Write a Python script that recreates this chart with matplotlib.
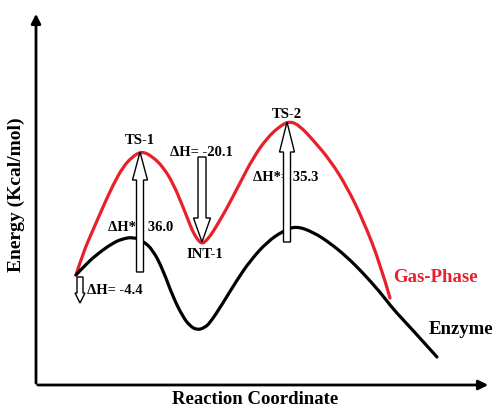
import matplotlib.pyplot as plt
import matplotlib.patches as mpatches
from matplotlib.path import Path

plt.rcParams['font.family'] = ['Liberation Serif', 'DejaVu Serif']
plt.rcParams['font.weight'] = 'bold'

# Schematic energy profile
# (reaction coordinate, relative energy) in arbitrary drawing units
gas_rc = [40, 47, 57, 67, 77, 87, 96, 106, 117, 127, 137, 147, 151, 156, 161, 166,
          171, 177, 184, 191, 204, 217, 231, 244, 254, 264, 277, 294, 311, 327, 344, 354]
gas_e = [110, 132, 155, 178, 200, 218, 228, 234, 228, 218, 202, 178, 168, 155, 146, 141,
         145, 153, 165, 177, 202, 227, 247, 259, 264, 259, 245, 225, 198, 165, 122, 87]

enz_rc = [40, 51, 64, 77, 86, 97, 107, 117, 127, 137, 147, 154, 161, 168, 174, 187,
          201, 214, 231, 247, 260, 277, 294, 311, 327, 344, 357, 374, 401]
enz_e = [110, 122, 133, 142, 146, 148, 144, 135, 115, 88, 68, 59, 55, 57, 62, 82,
         105, 124, 143, 154, 159, 153, 142, 128, 112, 93, 76, 58, 28]

# enthalpy arrows
arrow_x = [104, 166, 251, 44]
arrow_from = [113, 228, 143, 108]
arrow_to = [233, 143, 263, 82]


def smooth_path(xs, ys):
    # quadratic bezier through the read points, so the line has no corners
    pts = list(zip(xs, ys))
    verts = [pts[0]]
    codes = [Path.MOVETO]
    for i in range(1, len(pts) - 1):
        if i < len(pts) - 2:
            end = ((pts[i][0] + pts[i + 1][0]) / 2, (pts[i][1] + pts[i + 1][1]) / 2)
        else:
            end = pts[-1]
        verts += [pts[i], end]
        codes += [Path.CURVE3, Path.CURVE3]
    return Path(verts, codes)


fig = plt.figure(figsize=(4.95, 4.12), dpi=100)
ax = fig.add_axes([0, 0, 1, 1])
ax.set_xlim(-36, 459)
ax.set_ylim(-27, 385)
ax.axis('off')

# axes drawn as arrows
ax.annotate('', xy=(0, 374), xytext=(0, -1),
            arrowprops=dict(arrowstyle='-|>', color='black', lw=2, mutation_scale=14))
ax.annotate('', xy=(455, 0), xytext=(-1, 0),
            arrowprops=dict(arrowstyle='-|>', color='black', lw=2, mutation_scale=14))

ax.add_patch(mpatches.PathPatch(smooth_path(gas_rc, gas_e), fc='none', ec='#e8202a',
                                lw=2.3, capstyle='round', zorder=3))
ax.add_patch(mpatches.PathPatch(smooth_path(enz_rc, enz_e), fc='none', ec='black',
                                lw=2.3, capstyle='round', zorder=3))

heads = [(15, 28, 7), (17, 24, 8), (15, 30, 7), (10, 10, 6)]
for x, y0, y1, (hw, hl, w) in zip(arrow_x, arrow_from, arrow_to, heads):
    arr = mpatches.FancyArrow(x, y0, 0, y1 - y0, width=w, head_width=hw, head_length=hl,
                              length_includes_head=True, fc='white', ec='black', lw=1.0,
                              zorder=5)
    ax.add_patch(arr)

fs = 10.5
ax.text(104, 244, 'TS-1', ha='center', va='center', fontsize=fs, zorder=6)
ax.text(251, 271, 'TS-2', ha='center', va='center', fontsize=fs, zorder=6)
ax.text(169, 130, 'INT-1', ha='center', va='center', fontsize=fs, zorder=6)
ax.text(134, 233, 'ΔH= -20.1', ha='left', va='center', fontsize=fs, zorder=4)
ax.text(72, 158, 'ΔH*= 36.0', ha='left', va='center', fontsize=fs, zorder=4)
ax.text(217, 208, 'ΔH*= 35.3', ha='left', va='center', fontsize=fs, zorder=4)
ax.text(51, 95, 'ΔH= -4.4', ha='left', va='center', fontsize=fs, zorder=4)

ax.text(399, 107, 'Gas-Phase', ha='center', va='center', fontsize=13.5, color='#e8202a')
ax.text(425, 55, 'Enzyme', ha='center', va='center', fontsize=13.5)

ax.text(-20, 190, 'Energy (Kcal/mol)', rotation=90, ha='center', va='center', fontsize=14)
ax.text(219, -15, 'Reaction Coordinate', ha='center', va='center', fontsize=13.5)

fig.savefig('out.png', dpi=100)
